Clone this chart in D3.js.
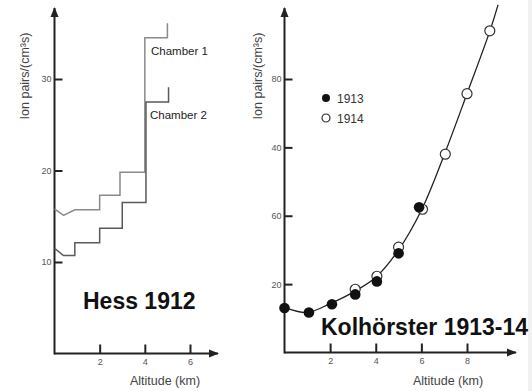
<!DOCTYPE html>
<html>
<head>
<meta charset="utf-8">
<script src="https://cdn.jsdelivr.net/npm/d3@7"></script>
<style>
  body { margin: 0; background: #fff; }
  svg { display: block; font-family: "Liberation Sans", Arial, sans-serif; }
  .tick text { fill: #555; font-size: 9px; }
  .tick line { stroke: #222; stroke-width: 2; }
</style>
</head>
<body>
<div id="chart"></div>
<script>
const [svgW, svgH] = [532, 391];

// Hess 1912, step curves (altitude km, ion pairs)
const chamber1Alt = [0, 0.4, 0.9, 2, 2, 2.9, 2.9, 4, 4, 5, 5];
const chamber1Val = [15.8, 15.1, 15.7, 15.7, 17.3, 17.3, 19.8, 19.8, 34.5, 34.5, 36.1];
const chamber2Alt = [0, 0.4, 0.9, 0.9, 2, 2, 3, 3, 4.05, 4.05, 5.05, 5.05];
const chamber2Val = [11.5, 10.7, 10.7, 12.1, 12.1, 13.7, 13.7, 16.5, 16.5, 27.5, 27.5, 29.1];
const hessXTicks = [2, 4, 6];
const hessYTicks = [10, 20, 30];

// Kolhörster 1913-14
const k1913Alt = [0, 1.07, 2.08, 3.1, 4.05, 5.0, 5.9];
const k1913Val = [13.0, 11.7, 14.1, 17.0, 20.8, 29.0, 42.5];
const k1914Alt = [3.1, 4.05, 5.0, 6.05, 7.05, 8.0, 9.0];
const k1914Val = [18.5, 22.3, 30.8, 41.9, 58.0, 75.7, 94.1];
const fitAlt = [0, 1, 2, 3, 4, 5, 6, 7, 8, 9, 9.36];
const fitVal = [13.2, 11.7, 14.3, 17.6, 22.0, 30.0, 41.6, 57.8, 75.7, 94.0, 101.7];
const kolXTicks = [2, 4, 6, 8];
const kolYTicks = [20, 40, 60, 80];
const kolYTickLabels = ["20", "60", "40", "80"];
const legendYears = ["1913", "1914"];

const svg = d3.select("#chart").append("svg").attr("width", svgW).attr("height", svgH);

svg.append("defs").append("marker")
    .attr("id", "arrow").attr("viewBox", "0 0 10 10")
    .attr("refX", 9).attr("refY", 5)
    .attr("markerWidth", 5).attr("markerHeight", 5)
    .attr("orient", "auto-start-reverse")
    .append("path").attr("d", "M0,1 L10,5 L0,9 Z").attr("fill", "#222");

// faint scan border on the right
svg.append("rect").attr("x", 528).attr("y", 0).attr("width", 4).attr("height", svgH).attr("fill", "#f1f1f1");

function drawFrame(g, x, y, xEnd, yTop, xTicks, yTicks, yFormat) {
    g.append("g").attr("transform", `translate(0,${y.range()[0]})`)
        .call(d3.axisBottom(x).tickValues(xTicks).tickSize(-9).tickPadding(5).tickFormat(d3.format("d")))
        .call(a => a.select(".domain").remove());
    g.append("g").attr("transform", `translate(${x.range()[0]},0)`)
        .call(d3.axisLeft(y).tickValues(yTicks).tickSize(-8).tickPadding(3).tickFormat(yFormat))
        .call(a => a.select(".domain").remove());
    g.append("line")
        .attr("x1", x.range()[0]).attr("y1", y.range()[0])
        .attr("x2", xEnd).attr("y2", y.range()[0])
        .attr("stroke", "#222").attr("stroke-width", 2).attr("marker-end", "url(#arrow)");
    g.append("line")
        .attr("x1", x.range()[0]).attr("y1", y.range()[0] + 1)
        .attr("x2", x.range()[0]).attr("y2", yTop)
        .attr("stroke", "#222").attr("stroke-width", 2).attr("marker-end", "url(#arrow)");
}

function axisTitles(g, xTitleX, yTitleX) {
    g.append("text").attr("x", xTitleX).attr("y", 385)
        .attr("text-anchor", "middle").attr("font-size", 12.5).attr("fill", "#444")
        .text("Altitude (km)");
    g.append("text").attr("transform", `translate(${yTitleX},76) rotate(-90)`)
        .attr("text-anchor", "middle").attr("font-size", 12.5).attr("fill", "#444")
        .text("Ion pairs/(cm³s)");
}

// ---- Hess 1912 ----
const hx = d3.scaleLinear().domain([0, 6]).range([54.5, 190]);
const hy = d3.scaleLinear().domain([0, 30]).range([353.5, 79]);
const hess = svg.append("g");
drawFrame(hess, hx, hy, 218, 8, hessXTicks, hessYTicks, d3.format("d"));
axisTitles(hess, 165, 29);

const stepLine = d3.line().x(d => hx(d[0])).y(d => hy(d[1]));
hess.append("path").datum(d3.zip(chamber1Alt, chamber1Val))
    .attr("d", stepLine).attr("fill", "none").attr("stroke", "#8a8a8a").attr("stroke-width", 1.5);
hess.append("path").datum(d3.zip(chamber2Alt, chamber2Val))
    .attr("d", stepLine).attr("fill", "none").attr("stroke", "#5a5a5a").attr("stroke-width", 1.5);

hess.append("text").attr("x", 151).attr("y", 55).attr("font-size", 11.5).attr("fill", "#222").text("Chamber 1");
hess.append("text").attr("x", 150).attr("y", 119).attr("font-size", 11.5).attr("fill", "#222").text("Chamber 2");
hess.append("text").attr("x", 83).attr("y", 309).attr("font-size", 23).attr("font-weight", "bold")
    .attr("fill", "#111").text("Hess 1912");

// ---- Kolhörster 1913-14 ----
const kx = d3.scaleLinear().domain([0, 8]).range([284.5, 467]);
const ky = d3.scaleLinear().domain([0, 80]).range([352.5, 79]);
const kol = svg.append("g");
drawFrame(kol, kx, ky, 516, 8, kolXTicks, kolYTicks, (d, i) => kolYTickLabels[i]);
axisTitles(kol, 448, 262);

kol.append("path").datum(d3.zip(fitAlt, fitVal))
    .attr("d", d3.line().x(d => kx(d[0])).y(d => ky(d[1])).curve(d3.curveCatmullRom))
    .attr("fill", "none").attr("stroke", "#222").attr("stroke-width", 1.3);

kol.selectAll(".p1914").data(d3.zip(k1914Alt, k1914Val)).join("circle")
    .attr("cx", d => kx(d[0])).attr("cy", d => ky(d[1])).attr("r", 5)
    .attr("fill", "#fff").attr("stroke", "#333").attr("stroke-width", 1.2);
kol.selectAll(".p1913").data(d3.zip(k1913Alt, k1913Val)).join("circle")
    .attr("cx", d => kx(d[0])).attr("cy", d => ky(d[1])).attr("r", 5.3)
    .attr("fill", "#111");

const legend = kol.selectAll(".leg").data(legendYears).join("g")
    .attr("transform", (d, i) => `translate(326,${98 + i * 20})`);
legend.append("circle").attr("r", 4)
    .attr("fill", (d, i) => i === 0 ? "#111" : "#fff")
    .attr("stroke", (d, i) => i === 0 ? "none" : "#333").attr("stroke-width", 1.2);
legend.append("text").attr("x", 11).attr("y", 4.5).attr("font-size", 12).attr("fill", "#333").text(d => d);

kol.append("text").attr("x", 321).attr("y", 335).attr("font-size", 23).attr("font-weight", "bold")
    .attr("fill", "#111").text("Kolhörster 1913-14");
</script>
</body>
</html>
